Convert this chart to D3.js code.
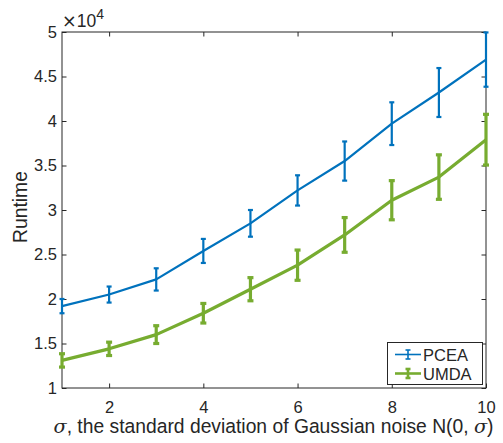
<!DOCTYPE html>
<html>
<head>
<meta charset="utf-8">
<script src="https://cdn.jsdelivr.net/npm/d3@7"></script>
<style>
  html, body { margin: 0; padding: 0; background: #fff; }
  svg { display: block; }
  text { font-family: "Liberation Sans", Arial, Helvetica, sans-serif; fill: #262626; }
</style>
</head>
<body>
<svg id="chart" width="503" height="443"></svg>
<script>
// Noise levels (sigma) on the x axis
const sigma = [1, 2, 3, 4, 5, 6, 7, 8, 9, 10];
// Mean runtime and its error (in units of 1e4)
const pceaMean = [1.92, 2.05, 2.22, 2.54, 2.85, 3.22, 3.55, 3.97, 4.32, 4.69];
const pceaErr  = [0.08, 0.09, 0.125, 0.135, 0.15, 0.17, 0.22, 0.24, 0.275, 0.305];
const umdaMean = [1.31, 1.44, 1.60, 1.84, 2.11, 2.38, 2.72, 3.11, 3.37, 3.79];
const umdaErr  = [0.075, 0.075, 0.10, 0.11, 0.13, 0.17, 0.195, 0.22, 0.25, 0.285];
const xTicks = [2, 4, 6, 8, 10];
const yTicks = [1, 1.5, 2, 2.5, 3, 3.5, 4, 4.5, 5];
const seriesNames = ["PCEA", "UMDA"];

const svg = d3.select("#chart");
const m = { left: 62, right: 486, top: 32, bottom: 388 };
const x = d3.scaleLinear().domain([1, 10]).range([m.left, m.right]);
const y = d3.scaleLinear().domain([1, 5]).range([m.bottom, m.top]);
const axisColor = "#262626";
const tickLen = 4.5;

// box
svg.append("rect")
  .attr("x", m.left).attr("y", m.top)
  .attr("width", m.right - m.left).attr("height", m.bottom - m.top)
  .attr("fill", "none").attr("stroke", axisColor).attr("stroke-width", 1);

// bottom / top axes (inward ticks)
const xAxisB = d3.axisBottom(x).tickValues(xTicks).tickSizeInner(-tickLen).tickSizeOuter(0).tickPadding(13).tickFormat(d3.format("d"));
const gxb = svg.append("g").attr("transform", `translate(0,${m.bottom})`).call(xAxisB);
const xAxisT = d3.axisTop(x).tickValues(xTicks).tickSizeInner(-tickLen).tickSizeOuter(0).tickFormat("");
const gxt = svg.append("g").attr("transform", `translate(0,${m.top})`).call(xAxisT);
// left / right axes
const fmtY = d => (Number.isInteger(d) ? d3.format("d")(d) : d3.format(".1f")(d));
const yAxisL = d3.axisLeft(y).tickValues(yTicks).tickSizeInner(-tickLen).tickSizeOuter(0).tickPadding(5).tickFormat(fmtY);
const gyl = svg.append("g").attr("transform", `translate(${m.left},0)`).call(yAxisL);
const yAxisR = d3.axisRight(y).tickValues(yTicks).tickSizeInner(-tickLen).tickSizeOuter(0).tickFormat("");
const gyr = svg.append("g").attr("transform", `translate(${m.right},0)`).call(yAxisR);

[gxb, gxt, gyl, gyr].forEach(g => {
  g.select(".domain").remove();
  g.selectAll(".tick line").attr("stroke", axisColor).attr("stroke-width", 1);
  g.selectAll(".tick text").attr("fill", axisColor).style("font-size", "16.5px").attr("font-family", null);
});
gxb.selectAll(".tick text").attr("dy", "0.71em");

// exponent label
const expo = svg.append("text").attr("x", 62).attr("y", 27).style("font-size", "17.5px");
expo.append("tspan").style("font-family", "'DejaVu Sans', sans-serif").text("\u00d7");
expo.append("tspan").text("10");
expo.append("tspan").attr("dy", -8).style("font-size", "14px").text("4");

// axis titles
const xl = svg.append("text")
  .attr("x", (m.left + m.right) / 2 - 0.5).attr("y", 433)
  .attr("text-anchor", "middle").style("font-size", "19.3px");
xl.append("tspan").style("font-family", "'DejaVu Serif', serif").style("font-style", "italic").text("\u03c3");
xl.append("tspan").text(", the standard deviation of Gaussian noise N(0, ");
xl.append("tspan").style("font-family", "'DejaVu Serif', serif").style("font-style", "italic").text("\u03c3");
xl.append("tspan").text(")");

svg.append("text")
  .attr("transform", `translate(26.5,${(m.top + m.bottom) / 2 - 3}) rotate(-90)`)
  .attr("text-anchor", "middle").style("font-size", "19.3px").text("Runtime");

// series with error bars
const series = [
  { name: seriesNames[0], mean: pceaMean, err: pceaErr, color: "#0072BD", width: 2.2, cap: 5 },
  { name: seriesNames[1], mean: umdaMean, err: umdaErr, color: "#77AC30", width: 3.2, cap: 6 }
];
const line = d3.line().x(d => x(d.x)).y(d => y(d.y));

series.forEach(s => {
  const pts = sigma.map((v, i) => ({ x: v, y: s.mean[i], e: s.err[i] }));
  const g = svg.append("g");
  g.append("path").datum(pts).attr("d", line)
    .attr("fill", "none").attr("stroke", s.color).attr("stroke-width", s.width)
    .attr("stroke-linejoin", "round");
  const eb = g.selectAll("g.eb").data(pts).join("g").attr("class", "eb");
  eb.append("line")
    .attr("x1", d => x(d.x)).attr("x2", d => x(d.x))
    .attr("y1", d => y(d.y - d.e)).attr("y2", d => y(d.y + d.e))
    .attr("stroke", s.color).attr("stroke-width", s.width);
  eb.append("line")
    .attr("x1", d => x(d.x) - s.cap / 2).attr("x2", d => x(d.x) + s.cap / 2)
    .attr("y1", d => y(d.y + d.e)).attr("y2", d => y(d.y + d.e))
    .attr("stroke", s.color).attr("stroke-width", s.width);
  eb.append("line")
    .attr("x1", d => x(d.x) - s.cap / 2).attr("x2", d => x(d.x) + s.cap / 2)
    .attr("y1", d => y(d.y - d.e)).attr("y2", d => y(d.y - d.e))
    .attr("stroke", s.color).attr("stroke-width", s.width);
});

// legend
const lg = svg.append("g");
lg.append("rect").attr("x", 387.5).attr("y", 342.5).attr("width", 95).attr("height", 42)
  .attr("fill", "#fff").attr("stroke", axisColor).attr("stroke-width", 1);
series.forEach((s, i) => {
  const cy = 354.5 + i * 19;
  const row = lg.append("g");
  row.append("line").attr("x1", 395).attr("x2", 421).attr("y1", cy).attr("y2", cy)
    .attr("stroke", s.color).attr("stroke-width", s.width - 0.6);
  row.append("line").attr("x1", 408).attr("x2", 408).attr("y1", cy - 4.5).attr("y2", cy + 4.5)
    .attr("stroke", s.color).attr("stroke-width", s.width - 0.6);
  [cy - 4.5, cy + 4.5].forEach(yy => row.append("line")
    .attr("x1", 405.5).attr("x2", 410.5).attr("y1", yy).attr("y2", yy)
    .attr("stroke", s.color).attr("stroke-width", s.width - 0.6));
  row.append("text").attr("x", 423).attr("y", cy + 6).style("font-size", "16.5px").text(s.name);
});
</script>
</body>
</html>
